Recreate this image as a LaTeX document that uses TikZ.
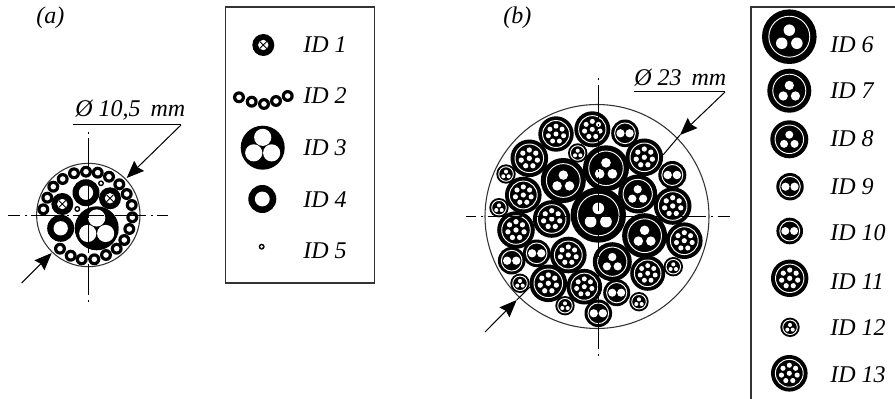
\documentclass[tikz,border=0pt]{standalone}
\usepackage{fontspec}
\setmainfont{Liberation Serif}
\usetikzlibrary{arrows.meta}

\tikzset{
  wirecross/.pic={
    \fill[black] (0,0) circle (1);
    \fill[white] (0,0) circle (.47);
    \draw[black,line width=.6pt] (-.33,-.33) -- (.33,.33) (-.33,.33) -- (.33,-.33);
  },
  wirehole/.pic={
    \fill[black] (0,0) circle (1);
    \fill[white] (0,0) circle (.53);
  },
  wirelink/.pic={
    \fill[black] (0,0) circle (1);
    \fill[white] (0,0) circle (.46);
  },
  wirebig/.pic={
    \fill[black] (0,0) circle (1);
    \foreach \a in {-90,30,150} \fill[white] (\a:.47) circle (.39);
  },
  wirethree/.pic={
    \fill[black] (0,0) circle (1);
    \draw[white,line width=.7pt] (0,0) circle (.75);
    \foreach \a in {-90,30,150} \fill[white] (0,.08) ++(\a:.32) circle (.21);
  },
  wiretwo/.pic={
    \fill[black] (0,0) circle (1);
    \draw[white,line width=.7pt] (0,0) circle (.75);
    \fill[white] (-.33,0) circle (.3) (.33,0) circle (.3);
  },
  wireseven/.pic={
    \fill[black] (0,0) circle (1);
    \draw[white,line width=.7pt] (0,0) circle (.76);
    \fill[white] (0,0) circle (.14);
    \foreach \a in {-90,-38.6,12.9,64.3,115.7,167.1,218.6} \fill[white] (\a:.44) circle (.14);
  },
  label/.style={anchor=west,inner sep=0pt,font=\itshape\fontsize{18}{20}\selectfont},
  outline/.style={black!80,line width=.8pt},
  leader/.style={black,line width=.75pt},
  pointer/.style={leader,-{Stealth[length=13pt,width=10.5pt,inset=1.5pt]}},
  axisa/.style={black,line width=.75pt,dash pattern=on 23.5pt off 3.5pt on 1.2pt off 3.3pt},
  axisb/.style={black,line width=.75pt,dash pattern=on 26pt off 3.5pt on 1.5pt off 3.5pt},
}

\begin{document}
\begin{tikzpicture}[x=.75pt,y=-.75pt]
  \useasboundingbox[fill=white] (0,0) rectangle (895,399);

  % panel a
  \draw[outline] (88.3,215) circle (51.7);
  \foreach \x/\y in {43.3/209.3,47.3/197.7,53.3/186.7,62.7/179,74/173.3,86/171.7,97.7/172.7,109/176.7,119.3/184.3,126.7/194,131.7/205,132.3/217.3,129.3/229,124.3/240,116.7/248.7,106/255,94.3/259.3,81.7/259.3,70.7/255.7,60/248.7}
    \pic[scale=6] at (\x,\y) {wirelink};
  \pic[scale=22] at (96.7,228.3) {wirebig};
  \foreach \x/\y in {60.7/228.3,86/192.7} \pic[scale=13.5] at (\x,\y) {wirehole};
  \foreach \x/\y in {62.3/204,110/198.3} \pic[scale=11] at (\x,\y) {wirecross};
  \foreach \x/\y in {101/183.3,77.3/209} \pic[scale=3] at (\x,\y) {wirehole};
  \draw[axisa,dash phase=14.25pt] (8,215) -- (168,215);
  \draw[axisa,dash phase=25.5pt] (88.3,130) -- (88.3,305);

  \node[label] (tagA) at (36,18) {(a)};
  \node[label] (sizeA) at (75,110) {Ø 10,5\,\ mm};
  \coordinate (kneeA) at (181,125);
  \coordinate (startA) at (73,125);
  \coordinate (tipA) at (126.7,178);
  \coordinate (tailA) at (21.7,283);
  \coordinate (lowA) at (51.7,253);
  \draw[leader] (startA) -- (kneeA);
  \draw[pointer] (kneeA) -- (tipA);
  \draw[pointer] (tailA) -- (lowA);

  % legend a
  \draw[outline] (225.7,7) rectangle (374.3,283);
  \pic[scale=11] at (263.3,45) {wirecross};
  \foreach \x/\y in {239/97.3,251.7/101.7,264/104,276/101,287.7/96} \pic[scale=6] at (\x,\y) {wirelink};
  \pic[scale=22] at (262.7,147.7) {wirebig};
  \pic[scale=14] at (262.3,199) {wirehole};
  \pic[scale=3] at (261.7,246.7) {wirehole};
  \node[label] (idA) at (303,45) {ID 1};
  \node[label] (idB) at (303,96) {ID 2};
  \node[label] (idC) at (303,148) {ID 3};
  \node[label] (idD) at (303,200) {ID 4};
  \node[label] (idE) at (303,251) {ID 5};

  % panel b
  \draw[outline] (597,216.5) circle (112);
  \pic[scale=27.7] at (598.3,215) {wirethree};
  \foreach \x/\y/\r in {563.3/180.5/22.5,606/168.3/23,644.6/235.7/22.5,637.7/194/19.5,612.3/261.7/19.5}
    \pic[scale=\r] at (\x,\y) {wirethree};
  \foreach \x/\y/\r in {556/134/17.7,592.3/129.3/18,529.3/158.3/18.8,523.3/195/18.3,516/230/18.8,551.7/219/18.8,644.3/157.3/18.8,672.7/206/18.8,684.3/240.7/18.3,647.7/273.3/17.5,568.3/255/18.3,548.3/283.3/18.8,584.3/286.7/17.8}
    \pic[scale=\r] at (\x,\y) {wireseven};
  \foreach \x/\y in {577.7/153,506/174,499/207.7,673.3/266.7,639/301.7,520/283.3,565/305.7}
    \pic[scale=9.7] at (\x,\y) {wirethree};
  \foreach \x/\y/\r in {625/133.3/13.8,672.3/175/14,616.7/292.7/13.5,598.3/313.3/13.8,511.7/260.7/13.8,536.7/253.3/13.8}
    \pic[scale=\r] at (\x,\y) {wiretwo};
  \draw[axisb,dash phase=18.25pt] (466,216.5) -- (730,216.5);
  \draw[axisb,dash phase=28.75pt] (598,77) -- (598,356);

  \node[label] (tagB) at (503,18) {(b)};
  \node[label] (sizeB) at (634,78) {Ø 23\,\ mm};
  \coordinate (startB) at (634,92);
  \coordinate (kneeB) at (725,92);
  \coordinate (tipB) at (680,135);
  \coordinate (endB) at (663,155);
  \coordinate (tailB) at (485,332);
  \coordinate (lowB) at (516.7,300);
  \coordinate (innerB) at (530,287);
  \draw[leader] (startB) -- (kneeB);
  \draw[pointer] (kneeB) -- (tipB);
  \draw[leader] (tipB) -- (endB);
  \draw[pointer] (tailB) -- (lowB);
  \draw[leader] (lowB) -- (innerB);

  % legend b
  \draw[outline] (751,399) -- (751,7) -- (895,7);
  \pic[scale=27.3] at (789.3,36.7) {wirethree};
  \pic[scale=22] at (789.3,90.7) {wirethree};
  \pic[scale=19] at (789.3,139.3) {wirethree};
  \pic[scale=13.7] at (790,186.7) {wiretwo};
  \pic[scale=13.3] at (789.7,231) {wiretwo};
  \pic[scale=18.7] at (789.7,278.3) {wireseven};
  \pic[scale=9.7] at (790,327.3) {wirethree};
  \pic[scale=18.3] at (789.3,373.3) {wireseven};
  \node[label] (idF) at (830,45) {ID 6};
  \node[label] (idG) at (830,91) {ID 7};
  \node[label] (idH) at (830,139) {ID 8};
  \node[label] (idI) at (830,187) {ID 9};
  \node[label] (idJ) at (830,233) {ID 10};
  \node[label] (idK) at (830,282) {ID 11};
  \node[label] (idL) at (830,328) {ID 12};
  \node[label] (idM) at (830,375) {ID 13};
\end{tikzpicture}
\end{document}
